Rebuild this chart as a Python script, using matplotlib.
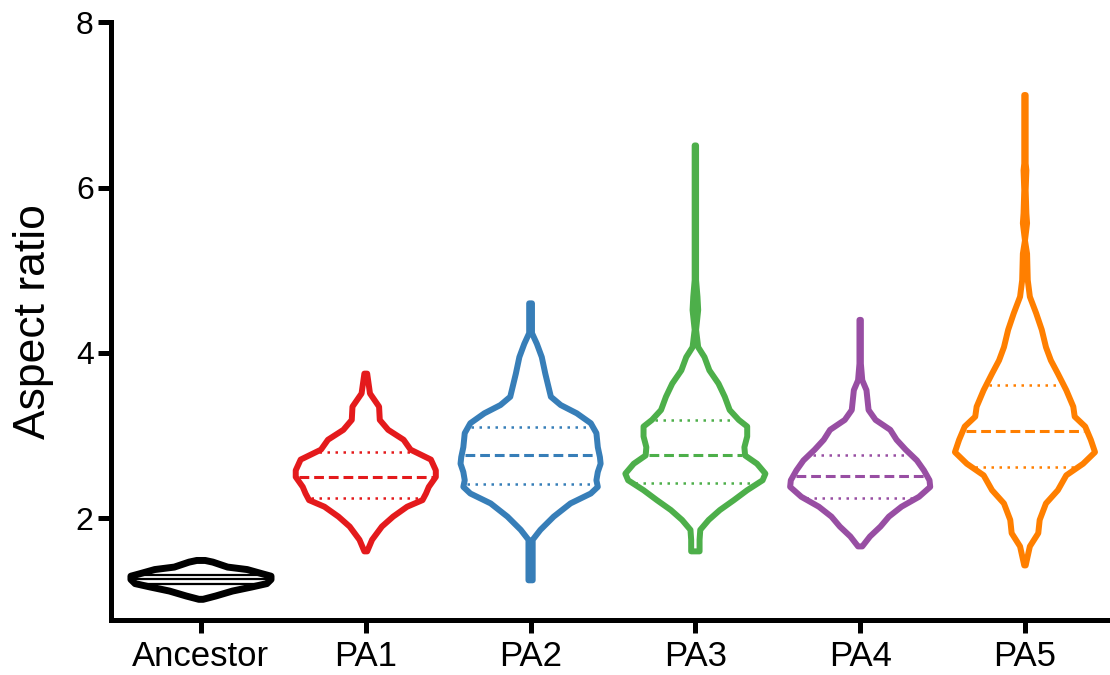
import matplotlib
matplotlib.use("Agg")
from matplotlib import pyplot as plt
from matplotlib import transforms
import numpy as np

plt.rcParams['font.family'] = ['Liberation Sans', 'DejaVu Sans']

groups = ["Ancestor", "PA1", "PA2", "PA3", "PA4", "PA5"]
colors = ["#000000", "#E41A1C", "#377EB8", "#4DAF4A", "#984EA3", "#FF7F00"]

# violin outlines: levels (aspect ratio) and relative half widths
anc_y = [1.02, 1.06, 1.12, 1.17, 1.21, 1.26, 1.30, 1.33, 1.38, 1.41, 1.47, 1.49]
anc_w = [0.03, 0.21, 0.45, 0.73, 0.94, 1.00, 1.00, 0.87, 0.66, 0.38, 0.17, 0.06]

pa1_y = [1.60, 1.74, 1.90, 2.02, 2.14, 2.22, 2.30, 2.38, 2.50, 2.58, 2.71, 2.83, 2.95,
         3.07, 3.19, 3.35, 3.51, 3.75]
pa1_w = [0.02, 0.09, 0.23, 0.39, 0.59, 0.81, 0.86, 0.90, 1.00, 1.00, 0.93, 0.64, 0.54,
         0.32, 0.20, 0.19, 0.06, 0.02]

pa2_y = [1.25, 1.58, 1.74, 1.86, 2.02, 2.18, 2.30, 2.38, 2.46, 2.56, 2.66, 2.74, 2.86,
         3.03, 3.15, 3.27, 3.37, 3.47, 3.75, 3.95, 4.11, 4.24, 4.60]
pa2_w = [0.03, 0.03, 0.03, 0.14, 0.33, 0.57, 0.86, 0.96, 0.94, 0.96, 1.00, 0.99, 0.96,
         0.94, 0.86, 0.66, 0.43, 0.29, 0.21, 0.16, 0.09, 0.02, 0.02]

pa3_y = [1.60, 1.74, 1.86, 1.98, 2.10, 2.22, 2.34, 2.46, 2.54, 2.66, 2.76, 2.86, 2.99,
         3.11, 3.19, 3.31, 3.47, 3.63, 3.79, 3.95, 4.07, 4.28, 4.52, 4.68, 4.88, 5.48,
         6.09, 6.51]
pa3_w = [0.06, 0.06, 0.07, 0.19, 0.35, 0.55, 0.74, 0.96, 1.00, 0.88, 0.71, 0.70, 0.74,
         0.74, 0.62, 0.49, 0.42, 0.33, 0.20, 0.13, 0.04, 0.01, 0.04, 0.03, 0.01, 0.01,
         0.01, 0.01]

pa4_y = [1.66, 1.78, 1.90, 2.02, 2.14, 2.26, 2.38, 2.46, 2.58, 2.70, 2.83, 2.95, 3.07,
         3.19, 3.31, 3.55, 3.67, 3.87, 4.11, 4.40]
pa4_w = [0.03, 0.14, 0.29, 0.41, 0.59, 0.84, 1.00, 0.99, 0.91, 0.81, 0.65, 0.52, 0.43,
         0.22, 0.12, 0.09, 0.03, 0.01, 0.01, 0.01]

pa5_y = [1.43, 1.66, 1.82, 1.98, 2.18, 2.34, 2.52, 2.66, 2.80, 2.95, 3.11, 3.23, 3.35,
         3.55, 3.75, 3.91, 4.07, 4.28, 4.48, 4.68, 4.88, 5.20, 5.36, 5.57, 5.69, 5.97,
         6.21, 6.29, 7.12]
pa5_w = [0.01, 0.07, 0.19, 0.21, 0.30, 0.47, 0.59, 0.83, 1.00, 0.94, 0.86, 0.71, 0.69,
         0.59, 0.47, 0.37, 0.30, 0.24, 0.16, 0.07, 0.04, 0.03, 0.00, 0.03, 0.02, 0.01,
         0.02, 0.01, 0.01]

profiles_y = [anc_y, pa1_y, pa2_y, pa3_y, pa4_y, pa5_y]
profiles_w = [anc_w, pa1_w, pa2_w, pa3_w, pa4_w, pa5_w]

medians = [1.26, 2.50, 2.76, 2.76, 2.51, 3.05]
q1 = [1.20, 2.25, 2.41, 2.43, 2.25, 2.62]
q3 = [1.31, 2.80, 3.10, 3.19, 2.77, 3.61]

half = 0.425

fig = plt.figure(figsize=(11.1, 6.75), dpi=100)
ax = fig.add_axes([0.1, 0.0815, 0.9, 0.8855])

for i in range(len(groups)):
    yy = np.array(profiles_y[i])
    ww = np.array(profiles_w[i]) * half
    xs = np.concatenate([i - ww, (i + ww)[::-1]])
    ys = np.concatenate([yy, yy[::-1]])
    lw = 5.0 if i == 0 else 4.3
    ax.fill(xs, ys, facecolor="none", edgecolor=colors[i], lw=lw,
            joinstyle="round", zorder=3)
    for val, kind in [(medians[i], "med"), (q1[i], "q"), (q3[i], "q")]:
        w = np.interp(val, yy, ww) - 0.02
        if i == 0:
            ax.plot([i - w, i + w], [val, val], color=colors[i], lw=1.6, zorder=2)
        elif kind == "med":
            ax.plot([i - w, i + w], [val, val], color=colors[i], lw=2.2,
                    dashes=(3.2, 1.6), zorder=2)
        else:
            ax.plot([i - w, i + w], [val, val], color=colors[i], lw=1.8,
                    dashes=(1, 2.2), zorder=2)

ax.set_xlim(-0.546, 5.516)
ax.set_ylim(0.77, 8)
ax.set_yticks([2, 4, 6, 8])
ax.set_xticks(range(len(groups)))
ax.set_xticklabels(groups, fontsize=25)
shift = transforms.ScaledTranslation(0.05, 0, fig.dpi_scale_trans)
for lab in ax.get_xticklabels():
    lab.set_transform(lab.get_transform() + shift)
ax.tick_params(axis="y", labelsize=23, width=3.6, length=9.5, pad=3)
ax.tick_params(axis="x", width=3.6, length=9.5, pad=5)
ax.set_ylabel("Aspect ratio", fontsize=32, labelpad=16)

for s in ["top", "right"]:
    ax.spines[s].set_visible(False)
for s in ["left", "bottom"]:
    ax.spines[s].set_linewidth(3.6)
    ax.spines[s].set_capstyle("projecting")

fig.savefig("out.png", dpi=100)
